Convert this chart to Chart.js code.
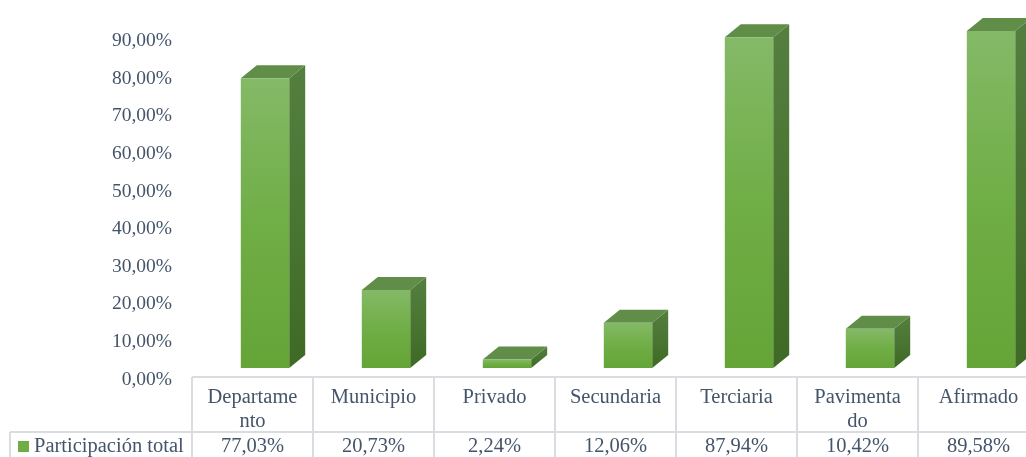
<!DOCTYPE html>
<html>
<head>
<meta charset="utf-8">
<script src="https://cdn.jsdelivr.net/npm/chart.js@4/dist/chart.umd.min.js"></script>
<style>
  html, body { margin: 0; padding: 0; background: #fff; overflow: hidden; }
  #myChart { display: block; }
</style>
</head>
<body>
<canvas id="myChart" width="1050" height="457"></canvas>
<script>
// categories (header lines as shown in the data table) and values
const categories = ['Departamento', 'Municipio', 'Privado', 'Secundaria', 'Terciaria', 'Pavimentado', 'Afirmado']
const headerLines = [['Departame', 'nto'], ['Municipio'], ['Privado'], ['Secundaria'], ['Terciaria'], ['Pavimenta', 'do'], ['Afirmado']]
const participacion = [77.03, 20.73, 2.24, 12.06, 87.94, 10.42, 89.58]
const seriesName = 'Participación total'

const FONT = '"Liberation Serif", "DejaVu Serif", serif'
const TEXT = '#44546a'
const GRID = '#d9dce1'
const DEPTH_X = 16
const DEPTH_Y = 13
const SHIFT = 12.5

const fmt = (v) => v.toFixed(2).replace('.', ',') + '%'

// front face gradient per bar
const frontFill = (ctx) => {
    const chart = ctx.chart
    const y = chart.scales.y
    if (!y) return '#70ad47'
    const top = y.getPixelForValue(ctx.raw)
    const base = y.getPixelForValue(0)
    if (!isFinite(top) || !isFinite(base) || top === base) return '#70ad47'
    const g = chart.ctx.createLinearGradient(0, top, 0, base)
    g.addColorStop(0, '#84b967')
    g.addColorStop(0.5, '#70ae46')
    g.addColorStop(1, '#65a437')
    return g
}

// side and top faces for the 3d look
const bars3d = {
    id: 'bars3d',
    afterDatasetsUpdate(chart) {
        chart.getDatasetMeta(0).data.forEach((el) => { el.x += SHIFT })
    },
    beforeDatasetsDraw(chart) {
        const c = chart.ctx
        c.save()
        chart.getDatasetMeta(0).data.forEach((el) => {
            const r = el.x + el.width / 2
            const l = el.x - el.width / 2
            const t = el.y
            const b = el.base
            let g = c.createLinearGradient(0, t - DEPTH_Y, 0, b)
            g.addColorStop(0, '#557f3f')
            g.addColorStop(1, '#3f6a25')
            c.fillStyle = g
            c.beginPath()
            c.moveTo(r, t)
            c.lineTo(r + DEPTH_X, t - DEPTH_Y)
            c.lineTo(r + DEPTH_X, b - DEPTH_Y)
            c.lineTo(r, b)
            c.closePath()
            c.fill()
            c.fillStyle = '#608d47'
            c.beginPath()
            c.moveTo(l, t)
            c.lineTo(l + DEPTH_X, t - DEPTH_Y)
            c.lineTo(r + DEPTH_X, t - DEPTH_Y)
            c.lineTo(r, t)
            c.closePath()
            c.fill()
        })
        c.restore()
    },
    afterDraw(chart) {
        // data table under the plot
        const c = chart.ctx
        const x = chart.scales.x
        const area = chart.chartArea
        const colW = (area.right - area.left) / categories.length
        const top = 377
        const rowSplit = 432
        const bottom = chart.height
        c.save()
        c.strokeStyle = GRID
        c.lineWidth = 2
        c.beginPath()
        c.moveTo(area.left, top)
        c.lineTo(area.right, top)
        c.moveTo(10, rowSplit)
        c.lineTo(area.right, rowSplit)
        c.moveTo(10, rowSplit)
        c.lineTo(10, bottom)
        for (let i = 0; i <= categories.length; i++) {
            const px = area.left + i * colW
            c.moveTo(px, top)
            c.lineTo(px, bottom)
        }
        c.stroke()

        c.fillStyle = TEXT
        c.font = '20.5px ' + FONT
        c.textAlign = 'center'
        c.textBaseline = 'middle'
        categories.forEach((cat, i) => {
            const cx = x.getPixelForValue(i)
            headerLines[i].forEach((line, j) => {
                c.fillText(line, cx, 398 + j * 24)
            })
            c.fillText(fmt(participacion[i]), cx, 447)
        })
        c.textAlign = 'left'
        c.fillText(seriesName, 34, 447)
        c.fillStyle = '#70ad47'
        c.fillRect(18, 441, 11, 11)
        c.restore()
    }
}

const ctx = document.getElementById('myChart')
new Chart(ctx, {
    type: 'bar',
    data: {
        labels: categories,
        datasets: [{
            label: seriesName,
            data: participacion,
            backgroundColor: frontFill,
            borderWidth: 0,
            categoryPercentage: 1,
            barPercentage: 0.4
        }]
    },
    options: {
        responsive: false,
        animation: false,
        layout: { padding: { top: 29.5, bottom: 89, right: 11, left: 0 } },
        plugins: {
            legend: { display: false },
            tooltip: { enabled: false }
        },
        scales: {
            x: { display: false, offset: true },
            y: {
                min: 0,
                max: 90,
                afterFit: (scale) => {
                    scale.width = 192
                    scale.paddingTop = 0
                    scale.paddingBottom = 0
                },
                grid: { display: false, drawTicks: false },
                border: { display: false },
                ticks: {
                    stepSize: 10,
                    padding: 20,
                    labelOffset: 11.5,
                    color: TEXT,
                    font: { family: FONT, size: 19.5 },
                    callback: (v) => fmt(v)
                }
            }
        }
    },
    plugins: [bars3d]
})
</script>
</body>
</html>
